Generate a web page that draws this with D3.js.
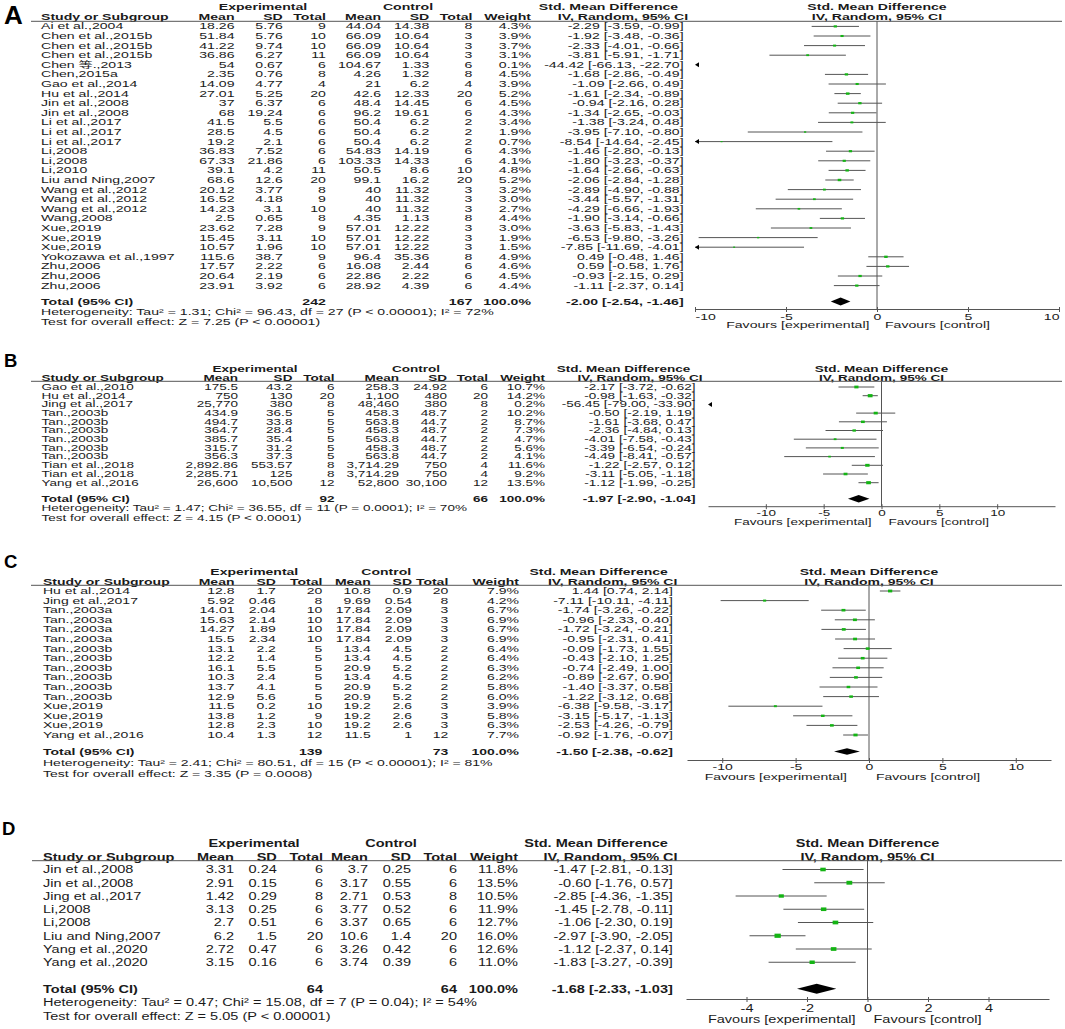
<!DOCTYPE html>
<html>
<head>
    <meta charset="utf-8" />
    <title>Forest plots A-D</title>
    <style>
        body { margin: 0; background: #fff; }
        svg { display: block; font-family: "Liberation Sans", Arial, "Noto Sans CJK SC", sans-serif; }
    </style>
</head>
<body>
<script src="https://cdn.jsdelivr.net/npm/d3@7"></script>
<script>
    // ---------- panel A ----------
    var studiesA = ["Ai et al.,2004", "Chen et al.,2015b", "Chen et al.,2015b", "Chen et al.,2015b", "Chen 等.,2013",
        "Chen,2015a", "Gao et al.,2014", "Hu et al.,2014", "Jin et al.,2008", "Jin et al.,2008", "Li et al.,2017",
        "Li et al.,2017", "Li et al.,2017", "Li,2008", "Li,2008", "Li,2010", "Liu and Ning,2007", "Wang et al.,2012",
        "Wang et al.,2012", "Wang et al.,2012", "Wang,2008", "Xue,2019", "Xue,2019", "Xue,2019",
        "Yokozawa et al.,1997", "Zhu,2006", "Zhu,2006", "Zhu,2006"];
    var expA = [[18.26,5.76,9],[51.84,5.76,10],[41.22,9.74,10],[36.86,6.27,11],[54,0.67,6],[2.35,0.76,8],[14.09,4.77,4],
        [27.01,5.25,20],[37,6.37,6],[68,19.24,6],[41.5,5.5,6],[28.5,4.5,6],[19.2,2.1,6],[36.83,7.52,6],[67.33,21.86,6],
        [39.1,4.2,11],[68.6,12.6,20],[20.12,3.77,8],[16.52,4.18,9],[14.23,3.1,10],[2.5,0.65,8],[23.62,7.28,9],
        [15.45,3.11,10],[10.57,1.96,10],[115.6,38.7,9],[17.57,2.22,6],[20.64,2.19,6],[23.91,3.92,6]];
    var ctlA = [[44.04,14.38,8],[66.09,10.64,3],[66.09,10.64,3],[66.09,10.64,3],[104.67,1.33,6],[4.26,1.32,8],[21,6.2,4],
        [42.6,12.33,20],[48.4,14.45,6],[96.2,19.61,6],[50.4,6.2,2],[50.4,6.2,2],[50.4,6.2,2],[54.83,14.19,6],[103.33,14.33,6],
        [50.5,8.6,10],[99.1,16.2,20],[40,11.32,3],[40,11.32,3],[40,11.32,3],[4.35,1.13,8],[57.01,12.22,3],
        [57.01,12.22,3],[57.01,12.22,3],[96.4,35.36,8],[16.08,2.44,6],[22.86,2.22,6],[28.92,4.39,6]];
    var weightA = [4.3,3.9,3.7,3.1,0.1,4.5,3.9,5.2,4.5,4.3,3.4,1.9,0.7,4.3,4.1,4.8,5.2,3.2,3.0,2.7,4.4,3.0,1.9,1.5,4.9,4.6,4.5,4.4];
    var smdA = [[-2.29,-3.59,-0.99],[-1.92,-3.48,-0.36],[-2.33,-4.01,-0.66],[-3.81,-5.91,-1.71],[-44.42,-66.13,-22.70],
        [-1.68,-2.86,-0.49],[-1.09,-2.66,0.49],[-1.61,-2.34,-0.89],[-0.94,-2.16,0.28],[-1.34,-2.65,-0.03],
        [-1.38,-3.24,0.48],[-3.95,-7.10,-0.80],[-8.54,-14.64,-2.45],[-1.46,-2.80,-0.13],[-1.80,-3.23,-0.37],
        [-1.64,-2.66,-0.63],[-2.06,-2.84,-1.28],[-2.89,-4.90,-0.88],[-3.44,-5.57,-1.31],[-4.29,-6.66,-1.93],
        [-1.90,-3.14,-0.66],[-3.63,-5.83,-1.43],[-6.53,-9.80,-3.26],[-7.85,-11.69,-4.01],[0.49,-0.48,1.46],
        [0.59,-0.58,1.76],[-0.93,-2.15,0.29],[-1.11,-2.37,0.14]];
    var totalNA = [242, 167];
    var totalSmdA = [-2.00, -2.54, -1.46];
    var hetA = "Heterogeneity: Tau² = 1.31; Chi² = 96.43, df = 27 (P < 0.00001); I² = 72%";
    var testA = "Test for overall effect: Z = 7.25 (P < 0.00001)";
    var ticksA = [-10, -5, 0, 5, 10];

    // ---------- panel B ----------
    var studiesB = ["Gao et al.,2010", "Hu et al.,2014", "Jing et al.,2017", "Tan.,2003b", "Tan.,2003b", "Tan.,2003b",
        "Tan.,2003b", "Tan.,2003b", "Tan.,2003b", "Tian et al.,2018", "Tian et al.,2018", "Yang et al.,2016"];
    var expB = [[175.5,43.2,6],[750,130,20],[25770,380,8],[434.9,36.5,5],[494.7,33.8,5],[364.7,28.4,5],[385.7,35.4,5],
        [315.7,31.2,5],[356.3,37.3,5],[2892.86,553.57,8],[2285.71,125,8],[26600,10500,12]];
    var ctlB = [[258.3,24.92,6],[1100,480,20],[48460,380,8],[458.3,48.7,2],[563.8,44.7,2],[458.3,48.7,2],[563.8,44.7,2],
        [458.3,48.7,2],[563.8,44.7,2],[3714.29,750,4],[3714.29,750,4],[52800,30100,12]];
    var weightB = [10.7,14.2,0.2,10.2,8.7,7.3,4.7,5.6,4.1,11.6,9.2,13.5];
    var smdB = [[-2.17,-3.72,-0.62],[-0.98,-1.63,-0.32],[-56.45,-79.00,-33.90],[-0.50,-2.19,1.19],[-1.61,-3.68,0.47],
        [-2.36,-4.84,0.13],[-4.01,-7.58,-0.43],[-3.39,-6.54,-0.24],[-4.49,-8.41,-0.57],[-1.22,-2.57,0.12],
        [-3.11,-5.05,-1.18],[-1.12,-1.99,-0.25]];
    var totalNB = [92, 66];
    var totalSmdB = [-1.97, -2.90, -1.04];
    var hetB = "Heterogeneity: Tau² = 1.47; Chi² = 36.55, df = 11 (P = 0.0001); I² = 70%";
    var testB = "Test for overall effect: Z = 4.15 (P < 0.0001)";
    var ticksB = [-10, -5, 0, 5, 10];

    // ---------- panel C ----------
    var studiesC = ["Hu et al.,2014", "Jing et al.,2017", "Tan.,2003a", "Tan.,2003a", "Tan.,2003a", "Tan.,2003a",
        "Tan.,2003b", "Tan.,2003b", "Tan.,2003b", "Tan.,2003b", "Tan.,2003b", "Tan.,2003b", "Xue,2019", "Xue,2019",
        "Xue,2019", "Yang et al.,2016"];
    var expC = [[12.8,1.7,20],[5.92,0.46,8],[14.01,2.04,10],[15.63,2.14,10],[14.27,1.89,10],[15.5,2.34,10],[13.1,2.2,5],
        [12.2,1.4,5],[16.1,5.5,5],[10.3,2.4,5],[13.7,4.1,5],[12.9,5.6,5],[11.5,0.2,10],[13.8,1.2,9],[12.8,2.3,10],[10.4,1.3,12]];
    var ctlC = [[10.8,0.9,20],[9.69,0.54,8],[17.84,2.09,3],[17.84,2.09,3],[17.84,2.09,3],[17.84,2.09,3],[13.4,4.5,2],
        [13.4,4.5,2],[20.9,5.2,2],[13.4,4.5,2],[20.9,5.2,2],[20.9,5.2,2],[19.2,2.6,3],[19.2,2.6,3],[19.2,2.6,3],[11.5,1,12]];
    var weightC = [7.9,4.2,6.7,6.9,6.7,6.9,6.4,6.4,6.3,6.2,5.8,6.0,3.9,5.8,6.3,7.7];
    var smdC = [[1.44,0.74,2.14],[-7.11,-10.11,-4.11],[-1.74,-3.26,-0.22],[-0.96,-2.33,0.40],[-1.72,-3.24,-0.21],
        [-0.95,-2.31,0.41],[-0.09,-1.73,1.55],[-0.43,-2.10,1.25],[-0.74,-2.49,1.00],[-0.89,-2.67,0.90],
        [-1.40,-3.37,0.58],[-1.22,-3.12,0.68],[-6.38,-9.58,-3.17],[-3.15,-5.17,-1.13],[-2.53,-4.26,-0.79],
        [-0.92,-1.76,-0.07]];
    var totalNC = [139, 73];
    var totalSmdC = [-1.50, -2.38, -0.62];
    var hetC = "Heterogeneity: Tau² = 2.41; Chi² = 80.51, df = 15 (P < 0.00001); I² = 81%";
    var testC = "Test for overall effect: Z = 3.35 (P = 0.0008)";
    var ticksC = [-10, -5, 0, 5, 10];

    // ---------- panel D ----------
    var studiesD = ["Jin et al.,2008", "Jin et al.,2008", "Jing et al.,2017", "Li,2008", "Li,2008", "Liu and Ning,2007",
        "Yang et al.,2020", "Yang et al.,2020"];
    var expD = [[3.31,0.24,6],[2.91,0.15,6],[1.42,0.29,8],[3.13,0.25,6],[2.7,0.51,6],[6.2,1.5,20],[2.72,0.47,6],[3.15,0.16,6]];
    var ctlD = [[3.7,0.25,6],[3.17,0.55,6],[2.71,0.53,8],[3.77,0.52,6],[3.37,0.65,6],[10.6,1.4,20],[3.26,0.42,6],[3.74,0.39,6]];
    var weightD = [11.8,13.5,10.5,11.9,12.7,16.0,12.6,11.0];
    var smdD = [[-1.47,-2.81,-0.13],[-0.60,-1.76,0.57],[-2.85,-4.36,-1.35],[-1.45,-2.78,-0.11],[-1.06,-2.30,0.19],
        [-2.97,-3.90,-2.05],[-1.12,-2.37,0.14],[-1.83,-3.27,-0.39]];
    var totalND = [64, 64];
    var totalSmdD = [-1.68, -2.33, -1.03];
    var hetD = "Heterogeneity: Tau² = 0.47; Chi² = 15.08, df = 7 (P = 0.04); I² = 54%";
    var testD = "Test for overall effect: Z = 5.05 (P < 0.00001)";
    var ticksD = [-4, -2, 0, 2, 4];

    var width = 1065;
    var height = 1029;
    var textCol = "#1a1a1a";
    var lineCol = "#555";
    var boxCol = "#14b414";

    var svg = d3.select("body").append("svg")
                .attr("width", width)
                .attr("height", height);

    // text is drawn horizontally stretched like the source image
    function put(g, L, x, y, s, anchor, bold) {
        return g.append("text")
                .attr("transform", "translate(" + x + "," + (y + 0.35 * L.fs) + ") scale(" + L.sx + ",1)")
                .attr("text-anchor", anchor || "start")
                .attr("font-size", L.fs)
                .attr("font-weight", bold ? "bold" : null)
                .attr("fill", textCol)
                .text(s);
    }

    var num = d3.format(",");
    function ciText(v) {
        return v[0].toFixed(2) + " [" + v[1].toFixed(2) + ", " + v[2].toFixed(2) + "]";
    }

    function drawPanel(L, studies, exp, ctl, weight, smd, totN, totSmd, het, test, ticks) {
        var g = svg.append("g");
        var c = L.cols;
        var x = d3.scaleLinear().domain(L.domain).range(L.range);
        var y = function(i) { return L.row0 + i * L.step; };

        g.append("text")
         .attr("x", L.labelX).attr("y", L.labelY)
         .attr("font-size", L.labelSize).attr("font-weight", "bold")
         .attr("fill", "#000")
         .text(L.label);

        // headers
        put(g, L, L.expX, L.h1, "Experimental", "middle", true);
        put(g, L, L.ctlX, L.h1, "Control", "middle", true);
        put(g, L, L.ciH1, L.h1, "Std. Mean Difference", "middle", true);
        put(g, L, x(0), L.h1, "Std. Mean Difference", "middle", true);
        put(g, L, c.study, L.h2, "Study or Subgroup", "start", true);
        [["em","Mean"],["esd","SD"],["en","Total"],["cm","Mean"],["csd","SD"],["cn","Total"],["w","Weight"]]
            .forEach(function(h) { put(g, L, c[h[0]], L.h2, h[1], "end", true); });
        put(g, L, L.ciH2, L.h2, "IV, Random, 95% CI", "middle", true);
        put(g, L, x(0), L.h2, "IV, Random, 95% CI", "middle", true);

        g.append("line")
         .attr("x1", L.ruleX).attr("x2", 1062)
         .attr("y1", L.rule).attr("y2", L.rule)
         .attr("stroke", lineCol).attr("stroke-width", 1);

        // study rows
        studies.forEach(function(s, i) {
            var yy = y(i);
            put(g, L, c.study, yy, s);
            put(g, L, c.em, yy, num(exp[i][0]), "end");
            put(g, L, c.esd, yy, num(exp[i][1]), "end");
            put(g, L, c.en, yy, num(exp[i][2]), "end");
            put(g, L, c.cm, yy, num(ctl[i][0]), "end");
            put(g, L, c.csd, yy, num(ctl[i][1]), "end");
            put(g, L, c.cn, yy, num(ctl[i][2]), "end");
            put(g, L, c.w, yy, weight[i].toFixed(1) + "%", "end");
            put(g, L, c.ci, yy, ciText(smd[i]), "end");
        });

        put(g, L, c.study, L.total, "Total (95% CI)", "start", true);
        put(g, L, c.en, L.total, num(totN[0]), "end", true);
        put(g, L, c.cn, L.total, num(totN[1]), "end", true);
        put(g, L, c.w, L.total, "100.0%", "end", true);
        put(g, L, c.ci, L.total, ciText(totSmd), "end", true);
        put(g, L, c.study, L.het, het);
        put(g, L, c.study, L.test, test);

        // plot
        var d0 = L.domain[0], d1 = L.domain[1];
        g.append("line")
         .attr("x1", x(0)).attr("x2", x(0))
         .attr("y1", L.rule).attr("y2", L.axisY)
         .attr("stroke", lineCol).attr("stroke-width", 1);

        smd.forEach(function(v, i) {
            var yy = y(i);
            if (v[2] >= d0) {
                g.append("line")
                 .attr("x1", x(Math.max(v[1], d0))).attr("x2", x(Math.min(v[2], d1)))
                 .attr("y1", yy).attr("y2", yy)
                 .attr("stroke", lineCol).attr("stroke-width", 1);
            }
            if (v[1] < d0) {
                var ax = x(d0);
                g.append("path")
                 .attr("d", "M" + ax + "," + yy + "L" + (ax + 4) + "," + (yy - 2.5) + "L" + (ax + 4) + "," + (yy + 2.5) + "Z")
                 .attr("fill", "#000");
            }
            if (v[0] >= d0 && v[0] <= d1) {
                var h = Math.max(1.2, L.boxK * Math.sqrt(weight[i]));
                var w = h * 1.5;
                g.append("rect")
                 .attr("x", x(v[0]) - w / 2).attr("y", yy - h / 2)
                 .attr("width", w).attr("height", h)
                 .attr("fill", boxCol);
            }
        });

        var dy = L.total;
        g.append("path")
         .attr("d", "M" + x(totSmd[1]) + "," + dy + "L" + x(totSmd[0]) + "," + (dy - L.diaH) +
                    "L" + x(totSmd[2]) + "," + dy + "L" + x(totSmd[0]) + "," + (dy + L.diaH) + "Z")
         .attr("fill", "#000");

        var axis = d3.axisBottom(x)
                     .tickValues(ticks)
                     .tickSize(3)
                     .tickSizeOuter(0)
                     .tickFormat(function(d) { return String(d); });
        var ag = g.append("g")
                  .attr("transform", "translate(0," + L.axisY + ")")
                  .call(axis)
                  .attr("font-family", null)
                  .attr("font-size", null);
        ag.select(".domain").attr("stroke", lineCol);
        ag.selectAll(".tick line").attr("y1", -2).attr("y2", 3).attr("stroke", lineCol);
        ag.selectAll(".tick text")
          .attr("y", null).attr("dy", null)
          .attr("font-size", L.fs)
          .attr("fill", textCol)
          .attr("transform", "translate(0," + (L.tickY - L.axisY + 0.35 * L.fs) + ") scale(" + L.sx + ",1)")
          .attr("text-anchor", function(d) {
              if (L.endInside && d === d0) return "start";
              if (L.endInside && d === d1) return "end";
              return "middle";
          });

        put(g, L, x(0) - L.favGap[0], L.favY, "Favours [experimental]", "end");
        put(g, L, x(0) + L.favGap[1], L.favY, "Favours [control]", "start");
    }

    var layoutA = {label: "A", labelX: 4, labelY: 24, labelSize: 26, fs: 8.6, sx: 1.64,
        h1: 7, h2: 17.3, rule: 21.3, ruleX: 31, row0: 26.4, step: 9.6,
        total: 301.5, het: 311.8, test: 322.2, axisY: 309, tickY: 316.6, favY: 325,
        cols: {study: 41, em: 234.5, esd: 282.8, en: 325.9, cm: 381, csd: 429.3, cn: 472.4, w: 531, ci: 683.6},
        expX: 263, ctlX: 408, ciH1: 608.5, ciH2: 623,
        domain: [-10, 10], range: [695, 1059], endInside: true, favGap: [7.5, 8], boxK: 1.05, diaH: 3.9};

    var layoutB = {label: "B", labelX: 4, labelY: 367, labelSize: 18.5, fs: 8.2, sx: 1.65,
        h1: 369.4, h2: 378.3, rule: 381.3, ruleX: 31, row0: 387, step: 8.7,
        total: 498.8, het: 508.6, test: 518, axisY: 506.2, tickY: 513, favY: 522,
        cols: {study: 41.4, em: 238, esd: 292.4, en: 334.5, cm: 399, csd: 447, cn: 488, w: 545, ci: 695.5},
        expX: 255, ctlX: 416, ciH1: 623.5, ciH2: 640,
        domain: [-15, 15], range: [708, 1055], endInside: false, favGap: [10, 7], boxK: 0.85, diaH: 3.7};

    var layoutC = {label: "C", labelX: 4, labelY: 567.5, labelSize: 18.5, fs: 8.6, sx: 1.63,
        h1: 571.5, h2: 581.5, rule: 585.3, ruleX: 31, row0: 591, step: 9.6,
        total: 751.5, het: 763, test: 773.5, axisY: 760, tickY: 767.3, favY: 776.7,
        cols: {study: 43, em: 234.5, esd: 275.9, en: 322.4, cm: 370.7, csd: 412, cn: 448.3, w: 519, ci: 673},
        expX: 254.3, ctlX: 386.2, ciH1: 598.6, ciH2: 612.6,
        domain: [-12.4, 12.4], range: [687, 1051], endInside: false, favGap: [22, 7], boxK: 1.0, diaH: 3.2};

    var layoutD = {label: "D", labelX: 2, labelY: 835, labelSize: 18.5, fs: 11, sx: 1.32,
        h1: 843, h2: 856.7, rule: 860.7, ruleX: 32, row0: 869.5, step: 13.25,
        total: 988.7, het: 1002.5, test: 1016, axisY: 999, tickY: 1008.3, favY: 1019.5,
        cols: {study: 43, em: 234, esd: 276.8, en: 323, cm: 368, csd: 411, cn: 457, w: 518, ci: 672.8},
        expX: 254, ctlX: 391, ciH1: 596, ciH2: 610.5,
        domain: [-6, 6], range: [686, 1049], endInside: false, favGap: [12, 6], boxK: 1.05, diaH: 5};

    drawPanel(layoutA, studiesA, expA, ctlA, weightA, smdA, totalNA, totalSmdA, hetA, testA, ticksA);
    drawPanel(layoutB, studiesB, expB, ctlB, weightB, smdB, totalNB, totalSmdB, hetB, testB, ticksB);
    drawPanel(layoutC, studiesC, expC, ctlC, weightC, smdC, totalNC, totalSmdC, hetC, testC, ticksC);
    drawPanel(layoutD, studiesD, expD, ctlD, weightD, smdD, totalND, totalSmdD, hetD, testD, ticksD);
</script>
</body>
</html>
